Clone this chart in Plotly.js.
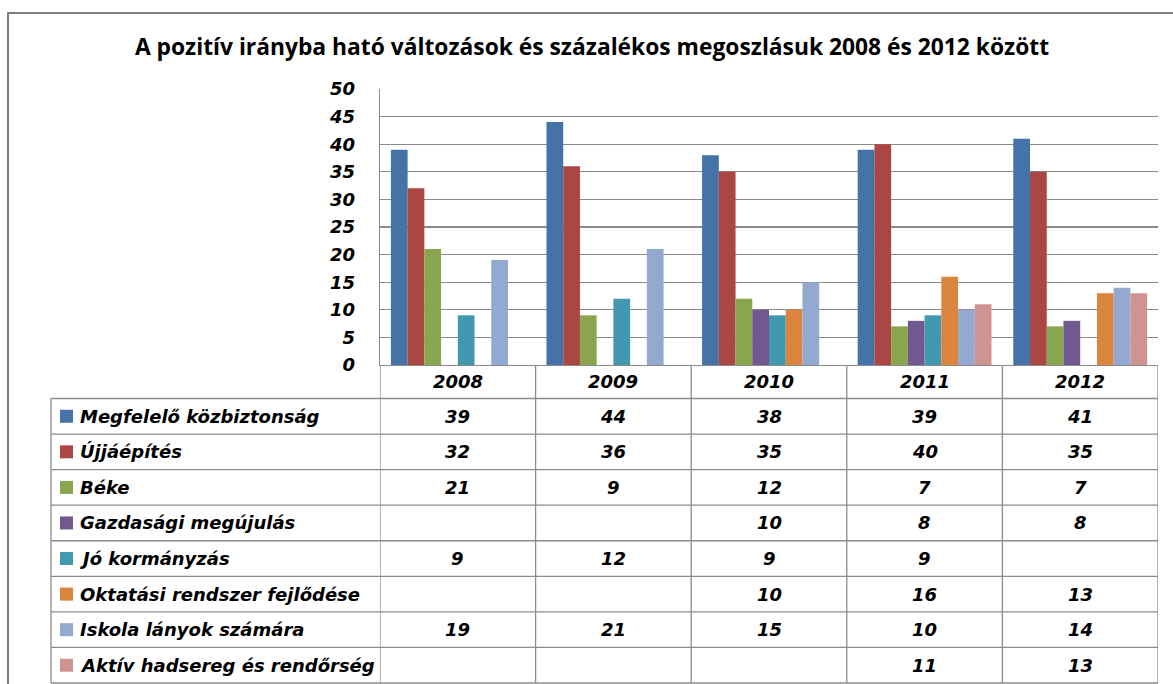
<!DOCTYPE html>
<html>
<head>
<meta charset="utf-8">
<script src="https://cdn.plot.ly/plotly-3.0.1.min.js"></script>
<style>html,body{margin:0;padding:0;background:#fff;}#chart{width:1173px;height:684px;}</style>
</head>
<body>
<div id="chart"></div>
<script>
const years = ['2008', '2009', '2010', '2011', '2012'];
const seriesNames = [
  'Megfelelő közbiztonság',
  'Újjáépítés',
  'Béke',
  'Gazdasági megújulás',
  'Jó kormányzás',
  'Oktatási rendszer fejlődése',
  'Iskola lányok számára',
  'Aktív hadsereg és rendőrség'
];
const kozbiztonsag = [39, 44, 38, 39, 41];
const ujjaepites   = [32, 36, 35, 40, 35];
const beke         = [21, 9, 12, 7, 7];
const gazdasagi    = [null, null, 10, 8, 8];
const kormanyzas   = [9, 12, 9, 9, null];
const oktatasi     = [null, null, 10, 16, 13];
const iskola       = [19, 21, 15, 10, 14];
const hadsereg     = [null, null, null, 11, 13];
const seriesValues = [kozbiztonsag, ujjaepites, beke, gazdasagi, kormanyzas, oktatasi, iskola, hadsereg];
const colors = ['#4572A7', '#AA4643', '#89A54E', '#71588F', '#4198AF', '#DB843D', '#93A9CF', '#D19392'];
const yTicks = [0, 5, 10, 15, 20, 25, 30, 35, 40, 45, 50];
const titleText = 'A pozitív irányba ható változások és százalékos megoszlásuk 2008 és 2012 között';

const W = 1173, H = 684;
const px = v => v / W;
const py = v => 1 - v / H;

const plotL = 380, plotR = 1158, plotT = 89, plotB = 365;
const yearRowB = 398.5;
const rowTop = 398.5, rowBottom = 683;
const rowH = (rowBottom - rowTop) / seriesNames.length;
const gridCol = '#8a8a8a';
const lineCol = '#8c8c8c';
const fontFam = 'DejaVu Sans, sans-serif';
const cellFont = {family: fontFam, size: 18, color: '#000', weight: 'bold', style: 'italic'};

const traces = seriesNames.map((name, i) => ({
  type: 'bar',
  name: name,
  x: years,
  y: seriesValues[i],
  marker: {color: colors[i], line: {width: 0}},
  showlegend: false,
  hoverinfo: 'x+y+name'
}));

const shapes = [];
const annotations = [];

// outer frame
shapes.push({type: 'rect', xref: 'paper', yref: 'paper', x0: px(8), x1: px(1190), y0: py(13), y1: py(700),
  line: {color: '#7f7f7f', width: 2}, fillcolor: 'rgba(0,0,0,0)', layer: 'below'});

// year row vertical lines (category boundaries)
for (let k = 0; k <= years.length; k++) {
  shapes.push({type: 'line', xref: 'x', yref: 'paper', x0: k - 0.5, x1: k - 0.5, y0: py(plotB), y1: py(rowBottom),
    line: {color: lineCol, width: 1.3}});
}
// left table border
shapes.push({type: 'line', xref: 'paper', yref: 'paper', x0: px(51), x1: px(51), y0: py(rowTop), y1: py(rowBottom),
  line: {color: lineCol, width: 1.3}});
// horizontal lines of table
for (let r = 0; r <= seriesNames.length; r++) {
  const yy = rowTop + r * rowH;
  shapes.push({type: 'line', xref: 'paper', yref: 'paper', x0: px(51), x1: px(plotR), y0: py(yy), y1: py(yy),
    line: {color: lineCol, width: 1.3}});
}

// year labels
years.forEach((yr, j) => {
  annotations.push({xref: 'x', yref: 'paper', x: j, y: py((plotB + yearRowB) / 2), text: yr, showarrow: false,
    xanchor: 'center', yanchor: 'middle', font: cellFont});
});

// rows
seriesNames.forEach((name, i) => {
  const cy = rowTop + (i + 0.5) * rowH;
  shapes.push({type: 'rect', xref: 'paper', yref: 'paper', x0: px(60), x1: px(73), y0: py(cy - 6.5), y1: py(cy + 6.5),
    fillcolor: colors[i], line: {width: 0}});
  annotations.push({xref: 'paper', yref: 'paper', x: px(78), y: py(cy), text: name, showarrow: false,
    xanchor: 'left', yanchor: 'middle', font: cellFont});
  seriesValues[i].forEach((v, j) => {
    if (v === null) return;
    annotations.push({xref: 'x', yref: 'paper', x: j, y: py(cy), text: String(v), showarrow: false,
      xanchor: 'center', yanchor: 'middle', font: cellFont});
  });
});

const layout = {
  width: W, height: H,
  margin: {l: 0, r: 0, t: 0, b: 0},
  paper_bgcolor: '#fff', plot_bgcolor: '#fff',
  barmode: 'group',
  bargap: 0.14, bargroupgap: 0,
  title: {text: titleText, x: px(592), xanchor: 'center', y: py(47), yanchor: 'middle',
    font: {family: 'Open Sans, sans-serif', size: 22.8, color: '#000', weight: 'bold'}},
  xaxis: {
    domain: [px(plotL), px(plotR)],
    type: 'category', range: [-0.5, 4.5],
    showticklabels: false, showgrid: false, zeroline: false,
    showline: true, linecolor: gridCol, linewidth: 1.3, ticks: ''
  },
  yaxis: {
    domain: [py(plotB), py(plotT)],
    range: [0, 50], tickvals: yTicks, ticktext: yTicks.map(String),
    showgrid: true, gridcolor: gridCol, gridwidth: 1.3,
    zeroline: false, showline: true, linecolor: gridCol, linewidth: 1.3,
    ticks: '', ticklabelstandoff: 20,
    tickfont: {family: fontFam, size: 18, color: '#000', weight: 'bold', style: 'italic'}
  },
  shapes: shapes,
  annotations: annotations
};

Plotly.newPlot('chart', traces, layout, {displayModeBar: false, staticPlot: true});
</script>
</body>
</html>
